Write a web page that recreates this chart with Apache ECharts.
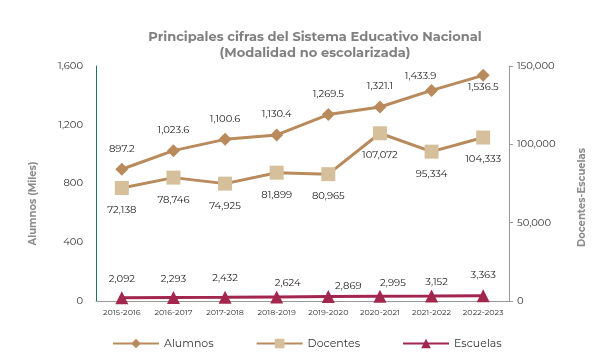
<!DOCTYPE html>
<html><head><meta charset="utf-8">
<script src="https://cdn.jsdelivr.net/npm/echarts@6/dist/echarts.min.js"></script>
<style>html,body{margin:0;padding:0;background:#fff}#c{width:603px;height:355px}</style>
</head><body><div id="c"></div>
<script>
const categories = ['2015-2016','2016-2017','2017-2018','2018-2019','2019-2020','2020-2021','2021-2022','2022-2023'];
const alumnos = [897.2, 1023.6, 1100.6, 1130.4, 1269.5, 1321.1, 1433.9, 1536.5];
const docentes = [72138, 78746, 74925, 81899, 80965, 107072, 95334, 104333];
const escuelas = [2092, 2293, 2432, 2624, 2869, 2995, 3152, 3363];
const leftTicks = [0, 400, 800, 1200, 1600];
const rightTicks = [0, 50000, 100000, 150000];

const fmt0 = v => v.toLocaleString('en-US');
const fmt1 = v => v.toLocaleString('en-US', {minimumFractionDigits:1, maximumFractionDigits:1});
const font = 'Montserrat, "Open Sans", Lato, sans-serif';
// label nudges (layout only)
const escLabelShift = [[0,5],[0,5],[0,4],[11,10],[20,13],[13,10],[5,10],[0,3]];
const chart = echarts.init(document.getElementById('c'));
chart.setOption({
  animation: false,
  textStyle: {fontFamily: font},
  title: {
    text: 'Principales cifras del Sistema Educativo Nacional\n(Modalidad no escolarizada)',
    left: 310, top: 24, textAlign: 'center',
    textStyle: {fontSize: 13, fontWeight: 'bold', color: '#808080', lineHeight: 16, fontFamily: font}
  },
  legend: {
    bottom: 1, left: 107, itemWidth: 46, itemHeight: 12, itemGap: 42,
    textStyle: {fontSize: 11, color: '#333'},
    data: ['Alumnos', 'Docentes', 'Escuelas']
  },
  grid: {left: 96, right: 94, top: 66, bottom: 54},
  xAxis: {
    type: 'category', data: categories, boundaryGap: true,
    axisLine: {lineStyle: {color: '#999'}}, axisTick: {show: false},
    axisLabel: {fontSize: 8, color: '#333', margin: 8, interval: 0}
  },
  yAxis: [{
    type: 'value', min: leftTicks[0], max: leftTicks[leftTicks.length - 1], interval: 400,
    name: 'Alumnos (Miles)', nameLocation: 'middle', nameGap: 58, nameRotate: 90,
    nameTextStyle: {fontSize: 10, fontWeight: 'bold', color: '#8c8c8c', padding: [0, 40, 0, 0]},
    axisLine: {show: true, lineStyle: {color: '#1a7a4c'}}, axisTick: {show: false},
    splitLine: {show: false},
    axisLabel: {fontSize: 10, color: '#333', margin: 13, formatter: v => fmt0(v)}
  }, {
    type: 'value', min: rightTicks[0], max: rightTicks[rightTicks.length - 1], interval: 50000,
    name: 'Docentes-Escuelas', nameLocation: 'middle', nameGap: 68, nameRotate: 90,
    nameTextStyle: {fontSize: 10, fontWeight: 'bold', color: '#8c8c8c', padding: [0, 28, 0, 0]},
    axisLine: {show: true, lineStyle: {color: '#999'}}, axisTick: {show: true, length: 4, lineStyle: {color: '#999'}},
    splitLine: {show: false},
    axisLabel: {fontSize: 10, color: '#333', margin: 8, formatter: v => fmt0(v)}
  }],
  series: [{
    name: 'Alumnos', type: 'line', yAxisIndex: 0, data: alumnos,
    symbol: 'diamond', symbolSize: 13,
    lineStyle: {color: '#b98a5c', width: 3}, itemStyle: {color: '#b98a5c'},
    label: {show: true, position: 'top', distance: 9, fontSize: 10, color: '#222',
      formatter: p => fmt1(p.value)},
    labelLayout: p => p.dataIndex === 7 ? {dy: 32} : (p.dataIndex === 6 ? {dx: -11, dy: 6} : null)
  }, {
    name: 'Docentes', type: 'line', yAxisIndex: 1, data: docentes,
    symbol: 'rect', symbolSize: 14,
    lineStyle: {color: '#b98a5c', width: 3}, itemStyle: {color: '#d6c09b'},
    label: {show: true, position: 'bottom', distance: 10, fontSize: 10, color: '#222',
      formatter: p => fmt0(p.value)}
  }, {
    name: 'Escuelas', type: 'line', yAxisIndex: 1, data: escuelas,
    symbol: 'triangle', symbolSize: 13,
    lineStyle: {color: '#a3264e', width: 3}, itemStyle: {color: '#a3264e'},
    label: {show: true, position: 'top', distance: 12, fontSize: 10, color: '#222',
      formatter: p => fmt0(p.value)},
    labelLayout: p => ({dx: escLabelShift[p.dataIndex][0], dy: escLabelShift[p.dataIndex][1]})
  }]
});
</script></body></html>
